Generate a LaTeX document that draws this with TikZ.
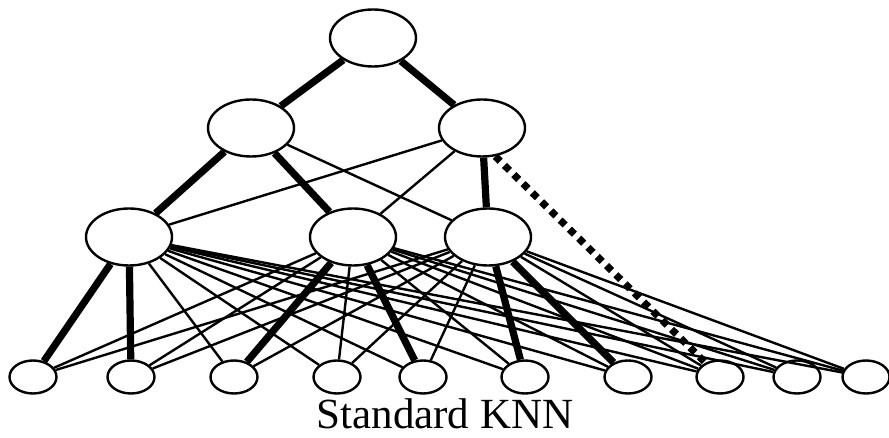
\documentclass[tikz,border=0pt]{standalone}
\usepackage{fontspec}
\setmainfont{Liberation Serif}
\usepackage{tikz}
\usetikzlibrary{shapes.geometric}

\begin{document}
\begin{tikzpicture}[
x=0.5pt, y=-0.5pt,
big node/.style = {ellipse, draw, line width=1.2pt, fill=white, inner sep=0pt,
                   minimum width=43pt, minimum height=28.5pt},
leaf node/.style = {ellipse, draw, line width=1.2pt, fill=white, inner sep=0pt,
                    minimum width=23.5pt, minimum height=16.5pt},
thin edge/.style = {line width=1.2pt},
thick edge/.style = {line width=3.6pt},
dot edge/.style = {line width=3.6pt, dash pattern=on 3.5pt off 3pt}
]

\useasboundingbox (0,0) rectangle (889,438);

\node (00) at (373, 38) [big node] {};

\node (10) at (251, 128) [big node] {};
\node (11) at (482, 128) [big node] {};

\node (20) at (129, 237) [big node] {};
\node (21) at (353, 237) [big node] {};
\node (22) at (488, 237) [big node] {};

\node (30) at (33, 377) [leaf node] {};
\node (31) at (131, 377) [leaf node] {};
\node (32) at (234, 377) [leaf node] {};
\node (33) at (337, 377) [leaf node] {};
\node (34) at (423, 377) [leaf node] {};
\node (35) at (525, 377) [leaf node] {};
\node (36) at (628, 377) [leaf node] {};
\node (37) at (720, 377) [leaf node] {};
\node (38) at (797, 377) [leaf node] {};
\node (39) at (866, 377) [leaf node] {};

\node (caption) at (445, 428) [anchor=base, inner sep=0pt, font=\fontsize{21.5}{25}\selectfont] {Standard KNN};

\draw[thick edge] (00) -- (10);
\draw[thick edge] (00) -- (11);

\draw[thick edge] (10) -- (20);
\draw[thick edge] (10) -- (21);
\draw[thin edge] (10) -- (22);

\draw[thin edge] (11) -- (20);
\draw[thin edge] (11) -- (21);
\draw[thick edge] (11) -- (22);
\draw[dot edge] (11.-65) -- (37);

\draw[thick edge] (20) -- (30);
\draw[thick edge] (20) -- (31);
\draw[thin edge] (20) -- (32);
\draw[thin edge] (20) -- (33);
\draw[thin edge] (20) -- (34);
\draw[thin edge] (20) -- (35);
\draw[thin edge] (20) -- (36);
\draw[thin edge] (20) -- (37);
\draw[thin edge] (20) -- (38);
\draw[thin edge] (20) -- (39);

\draw[thin edge] (21) -- (30);
\draw[thin edge] (21) -- (31);
\draw[thick edge] (21) -- (32);
\draw[thin edge] (21) -- (33);
\draw[thick edge] (21) -- (34);
\draw[thin edge] (21) -- (35);
\draw[thin edge] (21) -- (36);
\draw[thin edge] (21) -- (37);
\draw[thin edge] (21) -- (38);
\draw[thin edge] (21) -- (39);

\draw[thin edge] (22) -- (30);
\draw[thin edge] (22) -- (31);
\draw[thin edge] (22) -- (32);
\draw[thin edge] (22) -- (33);
\draw[thin edge] (22) -- (34);
\draw[thick edge] (22) -- (35);
\draw[thick edge] (22) -- (36);
\draw[thin edge] (22) -- (37);
\draw[thin edge] (22) -- (38);
\draw[thin edge] (22) -- (39);
\end{tikzpicture}
\end{document}
